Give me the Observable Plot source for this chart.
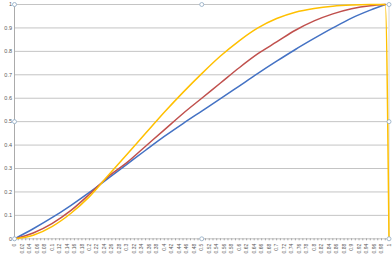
<!DOCTYPE html>
<html><head><meta charset="utf-8">
<style>html,body{margin:0;padding:0;background:#fff;} svg{display:block}</style>
<script src="https://cdn.jsdelivr.net/npm/d3@7"></script>
<script src="https://cdn.jsdelivr.net/npm/@observablehq/plot@0.6"></script>
</head><body><div id="chart"></div>
<script>
// sample positions (x) and series values
const xs = [0,0.05,0.1,0.15,0.2,0.25,0.3,0.35,0.4,0.45,0.5,0.55,0.6,0.65,0.7,0.75,0.8,0.85,0.9,0.95,0.99,1];
const series1 = [0,0.043,0.09,0.142,0.198,0.258,0.318,0.378,0.437,0.492,0.545,0.598,0.652,0.706,0.758,0.808,0.855,0.9,0.942,0.976,1];
const series2 = [0,0.025,0.065,0.12,0.19,0.265,0.325,0.395,0.465,0.535,0.6,0.665,0.73,0.79,0.84,0.89,0.93,0.96,0.982,0.995,1];
const series3 = [0,0.015,0.052,0.108,0.18,0.27,0.36,0.45,0.54,0.625,0.705,0.78,0.845,0.9,0.94,0.967,0.983,0.993,0.998,1,1,0];
const seriesNames = ["Series1","Series2","Series3"];
const seriesColors = ["#4472C4","#C0504D","#FFC000"];

const yTicks = [0,0.1,0.2,0.3,0.4,0.5,0.6,0.7,0.8,0.9,1];
const xTickLabels = [0,0.02,0.04,0.06,0.08,0.1,0.12,0.14,0.16,0.18,0.2,0.22,0.24,0.26,0.28,0.3,0.32,0.34,0.36,0.38,0.4,0.42,0.44,0.46,0.48,0.5,0.52,0.54,0.56,0.58,0.6,0.62,0.64,0.66,0.68,0.7,0.72,0.74,0.76,0.78,0.8,0.82,0.84,0.86,0.88,0.9,0.92,0.94,0.96,0.98,1];
const minorTicks = d3.range(101).map(i => i / 100);
const handlePos = [0, 0.5, 1];

const rows = [];
[series1, series2, series3].forEach((vals, k) => {
  vals.forEach((v, i) => rows.push({x: xs[i], y: v, s: seriesNames[k]}));
});
const handles = [];
handlePos.forEach(hx => handlePos.forEach(hy => { if (!(hx === 0.5 && hy === 0.5)) handles.push({x: hx, y: hy}); }));

const chart = Plot.plot({
  width: 392, height: 256,
  marginLeft: 14, marginRight: 3.5, marginTop: 4, marginBottom: 17.7,
  style: {fontFamily: "'Liberation Sans', Arial, sans-serif", color: "#595959", background: "#fff"},
  x: {domain: [0, 1]},
  y: {domain: [0, 1]},
  color: {domain: seriesNames, range: seriesColors},
  marks: [
    Plot.ruleY(yTicks, {stroke: "#c4c4c4", strokeWidth: 1}),
    Plot.ruleX([1], {stroke: "#d6d6d6"}),
    Plot.ruleX([0], {stroke: "#ababab"}),
    Plot.axisY({ticks: yTicks, tickSize: 0, tickPadding: 2.5, fontSize: 5.5, tickFormat: d => String(d), label: null}),
    Plot.axisX({ticks: minorTicks, tickSize: 2, tickFormat: () => "", stroke: "#a6a6a6", label: null}),
    Plot.axisX({ticks: xTickLabels, tickSize: 0, tickRotate: -90, tickPadding: 5, fontSize: 5, tickFormat: d => String(d), label: null}),
    Plot.line(rows, {x: "x", y: "y", z: "s", stroke: "s", curve: "monotone-x", strokeWidth: 1.5}),
    Plot.dot(handles, {x: "x", y: "y", r: 2, fill: "white", stroke: "#8fa9c3", strokeWidth: 0.8})
  ]
});
document.getElementById("chart").appendChild(chart);
</script>
</body></html>
